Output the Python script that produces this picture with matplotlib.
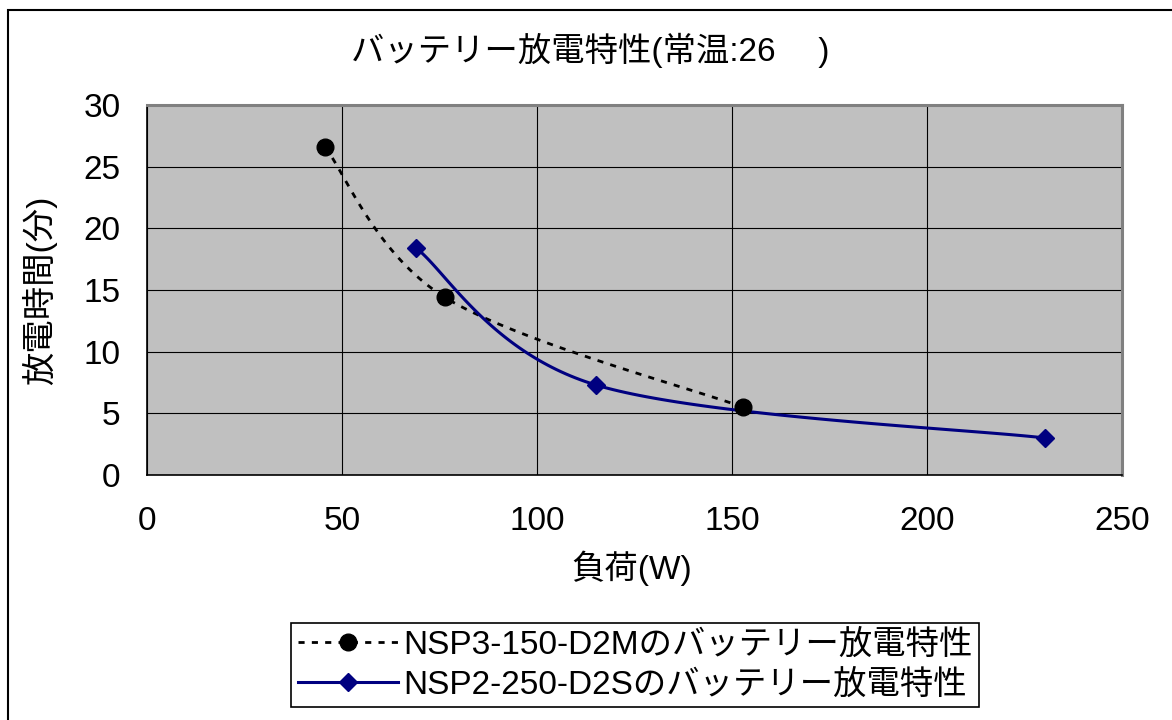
import numpy as np
import matplotlib
matplotlib.use("Agg")
import matplotlib.pyplot as plt
from matplotlib.patches import Rectangle
from matplotlib.lines import Line2D

plt.rcParams['font.family'] = ['Liberation Sans', 'Noto Sans CJK JP']

# Discharge data: load (W) vs. discharge time (minutes)
series_a_name = "NSP3-150-D2Mのバッテリー放電特性"
series_a_load = [45.6, 76.4, 152.8]
series_a_time = [26.6, 14.4, 5.5]

series_b_name = "NSP2-250-D2Sのバッテリー放電特性"
series_b_load = [69.0, 115.1, 230.3]
series_b_time = [18.4, 7.3, 3.0]

title_text = "バッテリー放電特性(常温:26　 )"
xlabel_text = "負荷(W)"
ylabel_text = "放電時間(分)"
xticks = [0, 50, 100, 150, 200, 250]
yticks = [0, 5, 10, 15, 20, 25, 30]


def smooth(xs, ys, n=60):
    """Catmull-Rom style Bezier smoothing through the given points."""
    p = np.column_stack([xs, ys]).astype(float)
    ext = np.vstack([p[0], p, p[-1]])
    out = []
    t = np.linspace(0, 1, n)[:, None]
    for i in range(len(p) - 1):
        p0, p3 = ext[i + 1], ext[i + 2]
        c1 = p0 + (ext[i + 2] - ext[i]) / 6.0
        c2 = p3 - (ext[i + 3] - ext[i + 1]) / 6.0
        seg = ((1 - t) ** 3) * p0 + 3 * ((1 - t) ** 2) * t * c1 + 3 * (1 - t) * t ** 2 * c2 + t ** 3 * p3
        out.append(seg if i == 0 else seg[1:])
    s = np.vstack(out)
    return s[:, 0], s[:, 1]


W, H = 1172, 720
FS = 24
fig = plt.figure(figsize=(W / 100, H / 100), dpi=100)
fig.patch.set_facecolor("white")

# outer chart frame
fig.patches.append(Rectangle((8 / W, -0.05), 1.1, 1 - 10 / H + 0.05,
                             transform=fig.transFigure, fill=False,
                             edgecolor="black", linewidth=1.5, clip_on=False))

ax = fig.add_axes([147 / W, 1 - 475 / H, 975 / W, 370 / H])
ax.set_facecolor("#C0C0C0")
ax.set_xlim(0, 250)
ax.set_ylim(0, 30)
ax.set_xticks(xticks)
ax.set_yticks(yticks)
ax.grid(True, color="black", linewidth=0.8)
ax.set_axisbelow(True)
for side in ("top", "right"):
    ax.spines[side].set_color("#808080")
    ax.spines[side].set_linewidth(2.2)
for side in ("left", "bottom"):
    ax.spines[side].set_color("black")
    ax.spines[side].set_linewidth(1.2)
ax.tick_params(axis="both", length=0, labelsize=FS)
ax.tick_params(axis="y", pad=19)
ax.tick_params(axis="x", pad=22)

ax_sx, ax_sy = smooth(series_a_load, series_a_time)
ax.plot(ax_sx, ax_sy, color="black", linestyle=(0, (2.2, 2.6)), linewidth=2.0, zorder=3)
ax.plot(series_a_load, series_a_time, linestyle="none", marker="o", markersize=12,
        color="black", zorder=4)

bx, by = smooth(series_b_load, series_b_time)
ax.plot(bx, by, color="#000080", linewidth=2.2, zorder=3)
ax.plot(series_b_load, series_b_time, linestyle="none", marker="D", markersize=9,
        color="#000080", zorder=4)

fig.text(590 / W, 1 - 50 / H, title_text, ha="center", va="center", fontsize=FS)
fig.text(632 / W, 1 - 568 / H, xlabel_text, ha="center", va="center", fontsize=FS)
fig.text(40 / W, 1 - 290 / H, ylabel_text, ha="center", va="center", fontsize=FS, rotation=90)

handles = [
    Line2D([], [], color="black", linestyle=(0, (2.2, 2.6)), linewidth=2.0,
           marker="o", markersize=12),
    Line2D([], [], color="#000080", linewidth=2.2, marker="D", markersize=9),
]
leg = fig.legend(handles, [series_a_name, series_b_name], loc="center",
                 bbox_to_anchor=(635 / W, 1 - 665 / H), fontsize=FS,
                 handlelength=3.0, handletextpad=0.15, borderpad=0.2,
                 labelspacing=0.25, fancybox=False, framealpha=1,
                 borderaxespad=0)
leg.get_frame().set_edgecolor("black")
leg.get_frame().set_linewidth(1.2)

fig.savefig("out.png", dpi=100)
